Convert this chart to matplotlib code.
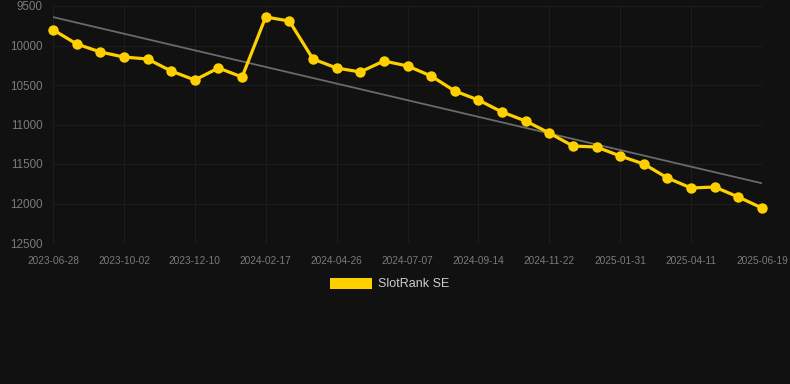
import matplotlib
matplotlib.use("Agg")
import matplotlib.pyplot as plt
from matplotlib.patches import Patch
import numpy as np

plt.rcParams['font.family'] = ['Liberation Sans', 'DejaVu Sans']

tick_labels = ["2023-06-28", "2023-10-02", "2023-12-10", "2024-02-17", "2024-04-26",
               "2024-07-07", "2024-09-14", "2024-11-22", "2025-01-31", "2025-04-11",
               "2025-06-19"]
ranks = [9800, 9981, 10082, 10146, 10171, 10323, 10437, 10285, 10399, 9639,
         9690, 10171, 10285, 10335, 10196, 10259, 10386, 10576, 10690, 10842,
         10956, 11108, 11272, 11285, 11399, 11500, 11677, 11804, 11791, 11918,
         12057]
series_name = "SlotRank SE"

bg = "#111111"
fig = plt.figure(figsize=(7.9, 3.84), dpi=100, facecolor=bg)
ax = fig.add_axes([53/790, 1-243/384, 709/790, 237/384], facecolor=bg)

x = np.arange(len(ranks))
coef = np.polyfit(x, ranks, 1)
trend = np.polyval(coef, x)
ax.plot(x, trend, color="#6a6a6a", lw=1.3, zorder=2)
ax.plot(x, ranks, color="#FFD000", lw=2.3, marker="o", markersize=7.5,
        markeredgewidth=0, zorder=3, clip_on=False)

ax.set_xlim(0, len(ranks)-1)
ax.set_ylim(12500, 9500)
ax.set_yticks([9500, 10000, 10500, 11000, 11500, 12000, 12500])
ax.set_xticks(np.arange(0, len(ranks), 3))
ax.set_xticklabels(tick_labels)
ax.tick_params(axis="x", colors="#7a7a7a", labelsize=7.3, length=0, pad=9)
ax.tick_params(axis="y", colors="#7a7a7a", labelsize=8.4, length=0, pad=7.5)
ax.grid(True, color="#1d1d1d", lw=0.8)
for s in ax.spines.values():
    s.set_visible(False)

leg = fig.legend(handles=[Patch(facecolor="#FFD000", edgecolor="none")],
                 labels=[series_name], loc="center", bbox_to_anchor=(390/790, 1-284/384),
                 frameon=False, handlelength=3.3, handleheight=1.0, handletextpad=0.55,
                 fontsize=9)
for t in leg.get_texts():
    t.set_color("#cccccc")

fig.savefig("out.png", dpi=100, facecolor=bg)
